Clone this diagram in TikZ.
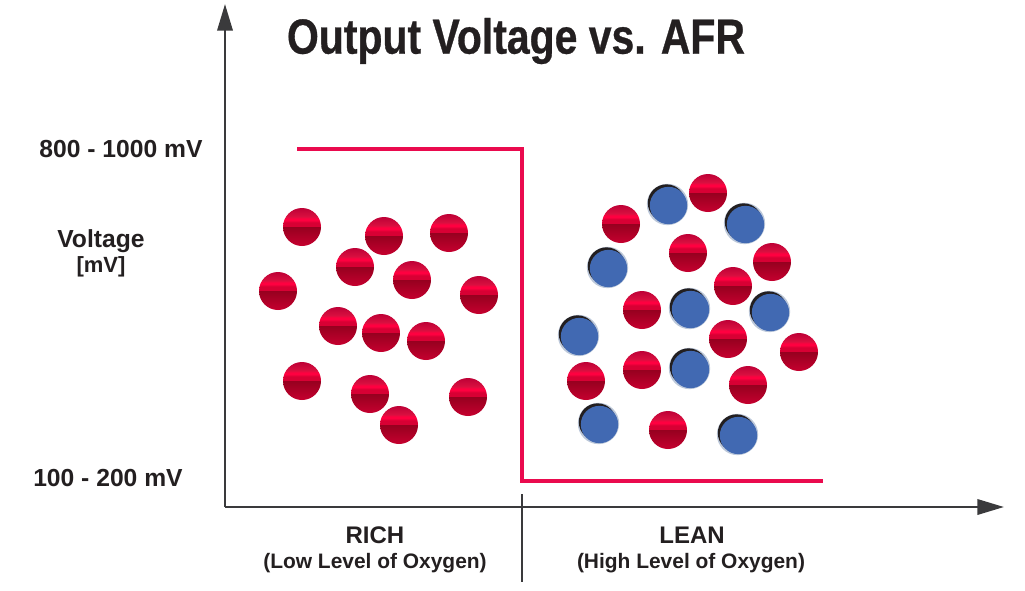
\documentclass[tikz,border=0pt]{standalone}
\usepackage{fontspec}
\setmainfont{Liberation Sans}
\newfontfamily\titlefont[FakeStretch=0.83,FakeBold=0.6]{Liberation Sans}
\usetikzlibrary{arrows.meta,calc,positioning}
\definecolor{axiscol}{HTML}{3A3A3C}
\definecolor{inkcol}{HTML}{231F20}
\definecolor{curvecol}{HTML}{EA0A4E}
\definecolor{bluecol}{HTML}{4169B2}
\definecolor{halocol}{HTML}{BCC8DA}
\definecolor{ballA}{HTML}{C6002F}
\definecolor{ballB}{HTML}{96001F}
\definecolor{ballC}{HTML}{D80034}
\definecolor{ballD}{HTML}{FF0040}
\definecolor{ballE}{HTML}{D81040}
\definecolor{ballF}{HTML}{BE0036}
\pgfdeclareverticalshading{redball}{100bp}{%
  color(0bp)=(ballA);
  color(25bp)=(ballA);
  color(50bp)=(ballB);
  color(51bp)=(ballC);
  color(56bp)=(ballC);
  color(59bp)=(ballD);
  color(61bp)=(ballD);
  color(64bp)=(ballE);
  color(75bp)=(ballF);
  color(100bp)=(ballF)}
\tikzset{
  axis/.style={draw=axiscol,line width=1.9pt},
  ball/.style={circle,inner sep=0pt,minimum size=28.5pt,shading=redball},
  bluedot/.style={circle,inner sep=0pt,minimum size=28pt,fill=bluecol},
  darkdot/.style={circle,inner sep=0pt,minimum size=28pt,fill=inkcol},
  halodot/.style={circle,inner sep=0pt,minimum size=31pt,fill=halocol},
  lbl/.style={font=\bfseries\fontsize{18.5}{20}\selectfont,text=inkcol},
  sub/.style={font=\bfseries\fontsize{15.7}{18}\selectfont,text=inkcol},
}
\begin{document}
\begin{tikzpicture}[x=0.75pt,y=-0.75pt,>={Triangle[length=20pt,width=11.5pt]}]
  \useasboundingbox (0,0) rectangle (1025,590);
  \node[font=\titlefont\bfseries\fontsize{37}{42}\selectfont,text=inkcol] (title) at (516,41) {Output Voltage vs. AFR};

  \coordinate (orig) at (225,507);
  \coordinate (ytop) at (225,4);
  \coordinate (xend) at (1004,507);
  \coordinate (divt) at (522,494);
  \coordinate (divb) at (522,582);
  \draw[axis,->] (orig) -- (ytop);
  \draw[axis,->] (orig) -- (xend);
  \draw[axiscol,line width=1.2pt] (divt) -- (divb);

  \coordinate (c0) at (297,149);
  \coordinate (c1) at (522,149);
  \coordinate (c2) at (522,481);
  \coordinate (c3) at (823,481);
  \draw[curvecol,line width=2.3pt] (c0) -- (c1) -- (c2) -- (c3);

  \node[lbl] (high) at (121,149) {800 - 1000 mV};
  \node[lbl] (low) at (108,478) {100 - 200 mV};
  \node[lbl] (volt) at (101,241) {Voltage};
  \node[sub,font=\bfseries\fontsize{16.5}{18}\selectfont] (unit) at (101,267) {[mV]};
  \node[lbl,font=\bfseries\fontsize{18}{20}\selectfont] (rich) at (375,535) {RICH};
  \node[sub] (richsub) at (375,563) {(Low Level of Oxygen)};
  \node[lbl,font=\bfseries\fontsize{18}{20}\selectfont] (lean) at (692,535) {LEAN};
  \node[sub] (leansub) at (691,563) {(High Level of Oxygen)};

  % rich side
  \foreach \px/\py [count=\i] in {302/227,384/236,449/233,355/267,412/280,278/291,479/295,338/326,381/333,426/341,302/381,370/394,468/397,399/425}
    \node[ball] (r\i) at (\px,\py) {};
  % lean side
  \foreach \px/\py [count=\i] in {621/224,708/193,688/253,772/262,733/286,642/310,728/339,799/352,586/381,642/370,748/385,668/430}
    \node[ball] (l\i) at (\px,\py) {};
  \foreach \px/\py [count=\i] in {668/205,745/224,608/268,690/309,770/312,579/336,690/369,599/424,738/435} {
    \node[halodot] (h\i) at (\px-0.5,\py-0.5) {};
    \node[darkdot] (d\i) at (\px-1.5,\py-2) {};
    \node[bluedot] (b\i) at (\px+0.5,\py+0.5) {};
  }
\end{tikzpicture}
\end{document}
